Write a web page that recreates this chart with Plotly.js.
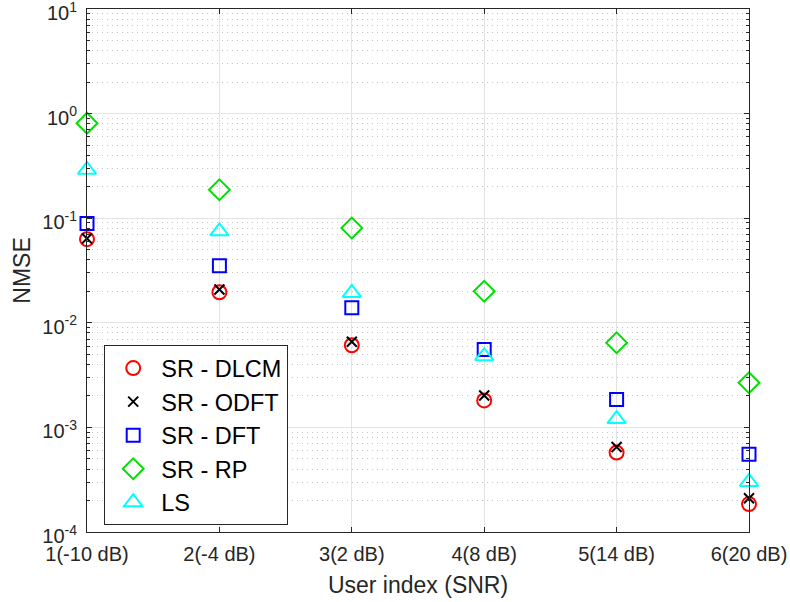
<!DOCTYPE html>
<html>
<head>
<meta charset="utf-8">
<script src="https://cdn.plot.ly/plotly-3.0.1.min.js"></script>
<style>html,body{margin:0;padding:0;background:#fff}#chart{width:790px;height:602px}</style>
</head>
<body>
<div id="chart"></div>
<script>
// User index (SNR) categories, one per position on the x axis
const userIdx = [1, 2, 3, 4, 5, 6];
const userLabels = ['1(-10 dB)', '2(-4 dB)', '3(2 dB)', '4(8 dB)', '5(14 dB)', '6(20 dB)'];

// NMSE per user for each estimator
const srDLCM = [0.063, 0.0196, 0.0061, 0.00181, 0.000574, 0.000185];
const srODFT = [0.064, 0.0208, 0.0066, 0.00202, 0.00065, 0.00021];
const srDFT  = [0.089, 0.0352, 0.0139, 0.00556, 0.00185, 0.000553];
const srRP   = [0.81, 0.187, 0.0805, 0.020, 0.00645, 0.00267];
const ls     = [0.29, 0.075, 0.0193, 0.0048, 0.0012, 0.000301];

// Y axis decade ticks
const yTickVals = [1e-4, 1e-3, 1e-2, 1e-1, 1, 10];
const yTickText = ['10<sup>-4</sup>', '10<sup>-3</sup>', '10<sup>-2</sup>', '10<sup>-1</sup>', '10<sup>0</sup>', '10<sup>1</sup>'];

function series(name, y, symbol, color, size) {
  return {
    x: userIdx, y: y, name: name, type: 'scatter', mode: 'markers',
    cliponaxis: false,
    marker: { symbol: symbol, size: size, color: color, line: { color: color, width: 2 } }
  };
}

const traces = [
  series('SR - DLCM', srDLCM, 'circle-open', '#ff0000', 14),
  series('SR - ODFT', srODFT, 'x-thin-open', '#000000', 10),
  series('SR - DFT', srDFT, 'square-open', '#0000ff', 13),
  series('SR - RP', srRP, 'diamond-open', '#00e000', 16),
  series('LS', ls, 'triangle-up-open', '#00ffff', 16)
];

const axisColor = '#262626';
const font = { family: 'Liberation Sans, Arial, sans-serif', color: '#262626' };

const layout = {
  width: 790, height: 602,
  margin: { l: 87, r: 41, t: 9, b: 70 },
  paper_bgcolor: '#fff', plot_bgcolor: '#fff',
  font: font,
  showlegend: true,
  legend: {
    x: 0.026, y: 0.357, xanchor: 'left', yanchor: 'top',
    bgcolor: '#fff', bordercolor: axisColor, borderwidth: 1,
    font: { family: font.family, size: 23.5, color: '#000' },
    itemwidth: 46, tracegroupgap: 0
  },
  xaxis: {
    range: [1, 6],
    tickvals: userIdx, ticktext: userLabels,
    tickfont: { size: 20 },
    ticks: 'inside', ticklen: 5, tickcolor: axisColor,
    ticklabelstandoff: 4, ticklabeloverflow: 'allow',
    showline: true, linecolor: axisColor, linewidth: 1, mirror: 'ticks',
    showgrid: true, gridcolor: '#e3e3e3', gridwidth: 1,
    zeroline: false,
    title: { text: 'User index (SNR)', font: { size: 23 }, standoff: 12 }
  },
  yaxis: {
    type: 'log',
    range: [-4, 1.00001],
    tickvals: yTickVals, ticktext: yTickText,
    tickfont: { size: 20 },
    ticks: 'inside', ticklen: 5, tickcolor: axisColor,
    ticklabelstandoff: 5, ticklabelshift: 4, ticklabeloverflow: 'allow',
    showline: true, linecolor: axisColor, linewidth: 1, mirror: 'ticks',
    showgrid: true, gridcolor: '#e3e3e3', gridwidth: 1,
    zeroline: false,
    minor: {
      dtick: 'D1',
      ticks: 'inside', ticklen: 3, tickcolor: axisColor,
      showgrid: true, gridcolor: '#c4c4c4', griddash: '1px,4px', gridwidth: 1
    },
    title: { text: 'NMSE', font: { size: 23 }, standoff: 5 }
  }
};

Plotly.newPlot('chart', traces, layout, { staticPlot: true, displayModeBar: false });
</script>
</body>
</html>
